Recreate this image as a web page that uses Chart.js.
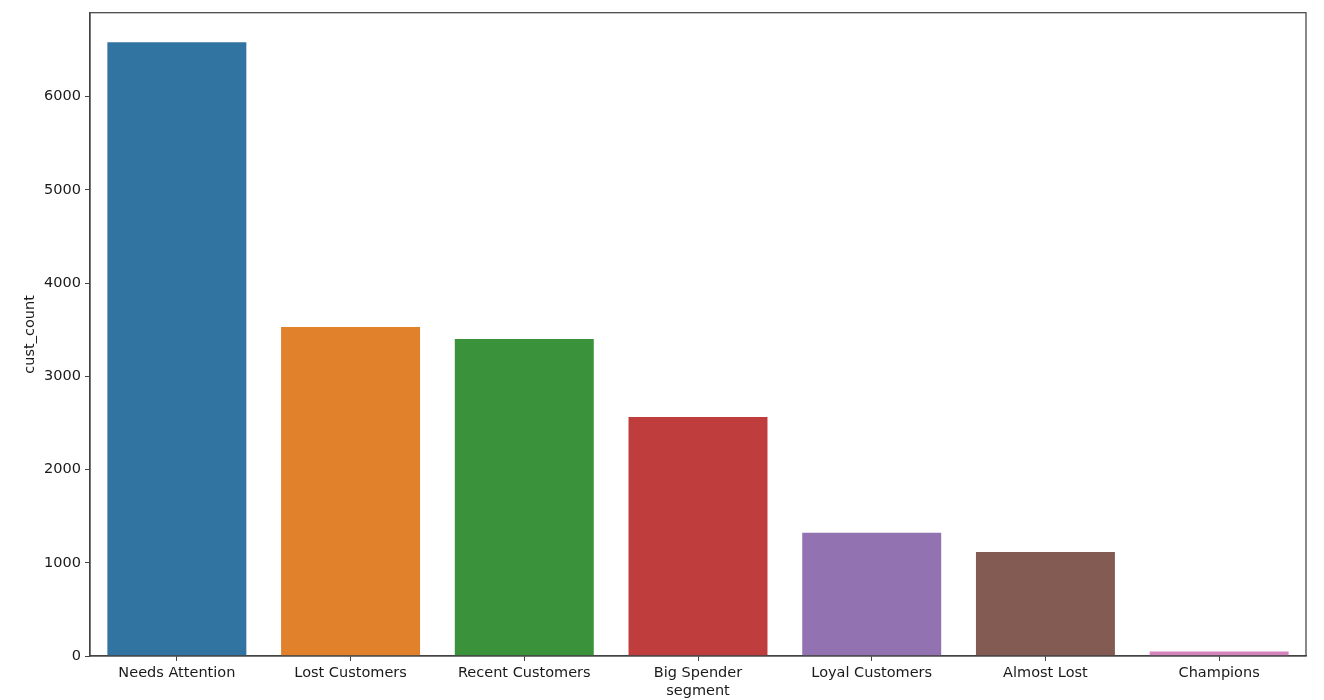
<!DOCTYPE html>
<html>
<head>
<meta charset="utf-8">
<script src="https://cdn.jsdelivr.net/npm/chart.js@4.4.0/dist/chart.umd.min.js"></script>
<style>
html,body{margin:0;padding:0;background:#fff;}
#wrap{width:1324px;height:700px;position:relative;}
</style>
</head>
<body>
<div id="wrap"><canvas id="c" width="1324" height="700"></canvas></div>
<script>
const categories = ["Needs Attention","Lost Customers","Recent Customers","Big Spender","Loyal Customers","Almost Lost","Champions"];
const custCount = [6583, 3528, 3399, 2564, 1322, 1116, 48];
const barColors = ["#3274a1","#e1812c","#3a923a","#c03d3e","#9372b2","#845b53","#d684bd"];
const yTicks = [0,1000,2000,3000,4000,5000,6000];
const xTitle = "segment";
const yTitle = "cust_count";

const FONT = "'DejaVu Sans', sans-serif";
const FS = 14.5;
const axisColor = "#444";

const frame = {
  id: 'frame',
  afterDraw(chart) {
    const a = chart.chartArea, ctx = chart.ctx;
    ctx.save();
    ctx.strokeStyle = axisColor;
    ctx.lineWidth = 1.25;
    ctx.strokeRect(a.left, a.top, a.right - a.left, a.bottom - a.top);
    ctx.restore();
  }
};

new Chart(document.getElementById('c'), {
  type: 'bar',
  data: {
    labels: categories,
    datasets: [{
      data: custCount,
      backgroundColor: barColors,
      borderWidth: 0,
      barPercentage: 0.8,
      categoryPercentage: 1.0
    }]
  },
  options: {
    responsive: false,
    animation: false,
    devicePixelRatio: 1,
    layout: { padding: { top: 11, right: 18, left: 0, bottom: 0 } },
    plugins: { legend: { display: false }, tooltip: { enabled: false } },
    scales: {
      x: {
        offset: true,
        grid: { display: true, offset: false, drawOnChartArea: false, tickLength: 5, color: axisColor, lineWidth: 1 },
        border: { display: true, color: axisColor, width: 1.25 },
        ticks: { color: '#1a1a1a', font: { family: FONT, size: FS }, padding: 4 },
        title: { display: true, text: xTitle, color: '#1a1a1a', font: { family: FONT, size: FS }, padding: { top: 2, bottom: 0 } },
        afterFit(scale) { scale.height = 44; }
      },
      y: {
        min: 0,
        max: 6900,
        afterBuildTicks(scale) { scale.ticks = yTicks.map(v => ({ value: v })); },
        grid: { display: true, drawOnChartArea: false, tickLength: 5, color: axisColor, lineWidth: 1 },
        border: { display: true, color: axisColor, width: 1.25 },
        ticks: { color: '#1a1a1a', font: { family: FONT, size: FS }, padding: 4, callback: v => String(v) },
        title: { display: true, text: yTitle, color: '#1a1a1a', font: { family: FONT, size: FS }, padding: { top: 22, bottom: 10 } },
        afterFit(scale) { scale.width = 90; }
      }
    }
  },
  plugins: [frame]
});
</script>
</body>
</html>
